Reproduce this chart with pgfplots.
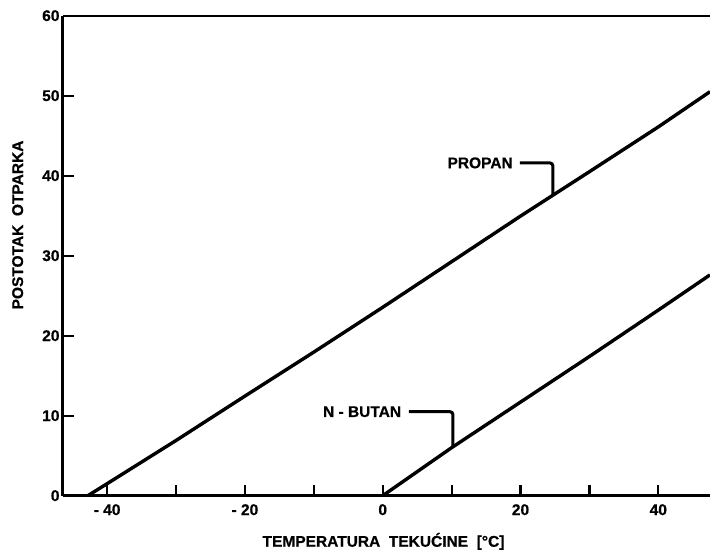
\documentclass[border=0pt]{standalone}
\usepackage{pgfplots}
\pgfplotsset{compat=1.18}
\usepackage{fontspec}
\setmainfont{Liberation Sans}[BoldFeatures={FakeBold=0.6}]

% Share of liquid evaporated vs. liquid temperature
\pgfplotstableread{
x      y
-42.8  0
-40    1.5
-30    6.9
-20    12.45
-10    17.95
0      23.55
10     29.25
20     34.95
30     40.5
40     46.1
47.5   50.5
}\propan

\pgfplotstableread{
x      y
0      0
5      3.0
10     6.0
20     11.7
30     17.4
40     23.2
47.5   27.6
}\butan

\begin{document}
\begin{tikzpicture}[font=\bfseries\fontsize{15.5}{18}\selectfont]
\useasboundingbox (-63pt,-58.3pt) rectangle (647pt,495.7pt);
\begin{axis}[
  at={(0,0)}, anchor=south west,
  scale only axis,
  width=647pt, height=480pt,
  xmin=-46.4, xmax=47.5,
  ymin=0, ymax=60,
  axis x line=bottom, axis y line=left,
  axis line style={-, line width=3pt},
  tick align=inside,
  major tick length=11pt,
  tick style={line width=2.2pt, black},
  xtick={-40,-30,...,40},
  xticklabels={- 40,,- 20,,0,,20,,40},
  ytick={0,10,...,60},
  yticklabels={0,10,20,30,40,50,60},
  xticklabel style={yshift=-5pt},
  every axis x label/.style={at={(axis description cs:0.4954,-0.1063)}, anchor=base},
  every axis y label/.style={at={(axis description cs:-0.0618,0.564)}, anchor=base, rotate=90},
  xlabel={TEMPERATURA\ \ TEKUĆINE\ \ [°C]},
  ylabel={POSTOTAK\ \ OTPARKA},
]
\addplot[black, line width=3.4pt, line join=round] table[x=x, y=y] {\propan};
\addplot[black, line width=3.4pt, line join=round] table[x=x, y=y] {\butan};

\draw[line width=3pt] (rel axis cs:0,1) -- (rel axis cs:1,1);

% leaders to the curves
\node[anchor=east, inner sep=0pt] at (axis cs:18.9,41.6) {PROPAN};
\draw[line width=3pt, rounded corners=3pt] (axis cs:19.9,41.6) -- (axis cs:24.7,41.6) -- (axis cs:24.7,37.6);
\node[anchor=east, inner sep=0pt] at (axis cs:2.7,10.5) {N - BUTAN};
\draw[line width=3pt, rounded corners=3pt] (axis cs:3.8,10.5) -- (axis cs:10.2,10.5) -- (axis cs:10.2,6.1);
\end{axis}
\end{tikzpicture}
\end{document}
